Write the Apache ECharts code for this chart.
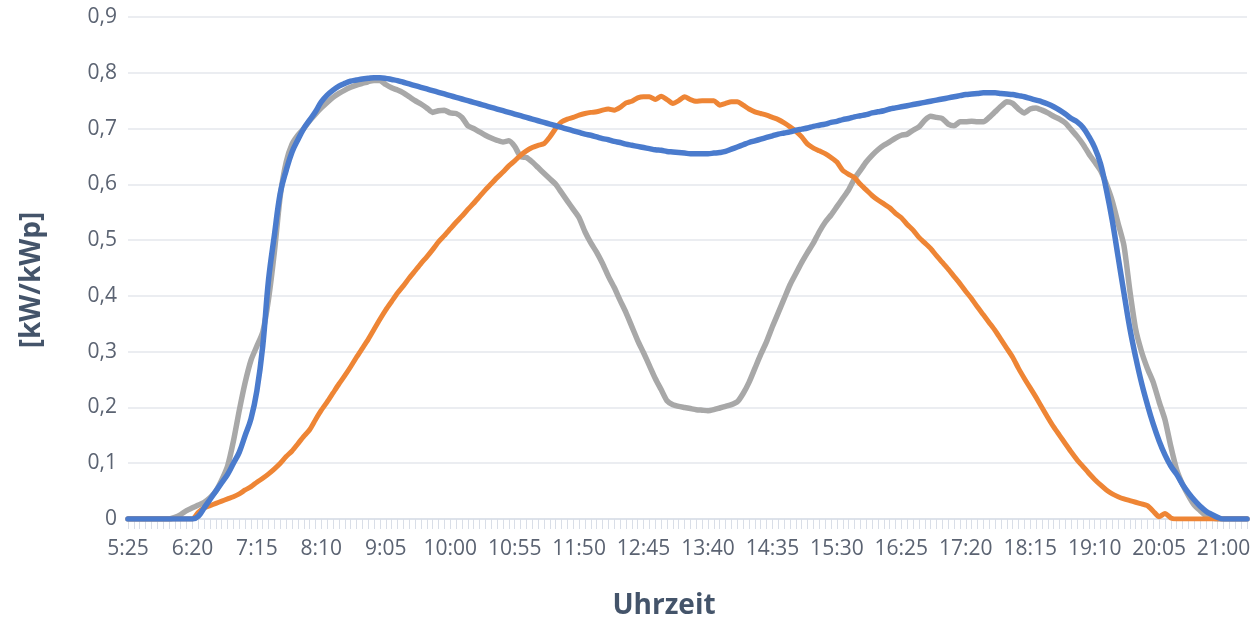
<!DOCTYPE html>
<html><head><meta charset="utf-8">
<script src="https://cdn.jsdelivr.net/npm/echarts@6/dist/echarts.min.js"></script>
<style>html,body{margin:0;padding:0;background:#fff}#c{width:1256px;height:619px}</style>
</head><body><div id="c"></div>
<script>
const times = ["5:25","5:30","5:35","5:40","5:45","5:50","5:55",
"6:00","6:05","6:10","6:15","6:20","6:25","6:30","6:35","6:40","6:45","6:50","6:55",
"7:00","7:05","7:10","7:15","7:20","7:25","7:30","7:35","7:40","7:45","7:50","7:55",
"8:00","8:05","8:10","8:15","8:20","8:25","8:30","8:35","8:40","8:45","8:50","8:55",
"9:00","9:05","9:10","9:15","9:20","9:25","9:30","9:35","9:40","9:45","9:50","9:55",
"10:00","10:05","10:10","10:15","10:20","10:25","10:30","10:35","10:40","10:45","10:50","10:55",
"11:00","11:05","11:10","11:15","11:20","11:25","11:30","11:35","11:40","11:45","11:50","11:55",
"12:00","12:05","12:10","12:15","12:20","12:25","12:30","12:35","12:40","12:45","12:50","12:55",
"13:00","13:05","13:10","13:15","13:20","13:25","13:30","13:35","13:40","13:45","13:50","13:55",
"14:00","14:05","14:10","14:15","14:20","14:25","14:30","14:35","14:40","14:45","14:50","14:55",
"15:00","15:05","15:10","15:15","15:20","15:25","15:30","15:35","15:40","15:45","15:50","15:55",
"16:00","16:05","16:10","16:15","16:20","16:25","16:30","16:35","16:40","16:45","16:50","16:55",
"17:00","17:05","17:10","17:15","17:20","17:25","17:30","17:35","17:40","17:45","17:50","17:55",
"18:00","18:05","18:10","18:15","18:20","18:25","18:30","18:35","18:40","18:45","18:50","18:55",
"19:00","19:05","19:10","19:15","19:20","19:25","19:30","19:35","19:40","19:45","19:50","19:55",
"20:00","20:05","20:10","20:15","20:20","20:25","20:30","20:35","20:40","20:45","20:50","20:55",
"21:00","21:05","21:10","21:15","21:20"];

const blueSeries = [0,0,0,0,0,0,0,0,0,0,0,0,
0.005,0.02,0.035,0.05,0.065,0.08,0.1,0.12,0.15,0.18,0.23,0.31,
0.43,0.51,0.585,0.625,0.658,0.68,0.7,0.715,0.73,0.748,0.76,0.769,
0.776,0.781,0.785,0.787,0.789,0.79,0.791,0.791,
0.79,0.788,0.786,0.783,0.78,0.777,0.774,0.771,0.768,0.765,0.762,0.759,
0.756,0.753,0.75,0.747,0.744,0.741,0.738,0.735,0.732,0.729,0.726,0.723,
0.72,0.717,0.714,0.711,0.708,0.705,0.702,0.699,0.696,0.693,0.69,0.688,
0.685,0.682,0.68,0.677,0.675,0.672,0.67,0.668,0.666,0.664,0.662,0.661,
0.659,0.658,0.657,0.656,0.655,0.655,0.655,0.655,0.656,0.657,0.659,0.663,
0.667,0.671,0.675,0.678,0.681,0.684,0.687,0.69,0.692,0.694,0.697,0.699,
0.701,0.704,0.706,0.708,0.711,0.713,0.716,0.718,0.721,0.723,0.725,0.728,
0.73,0.732,0.735,0.737,0.739,0.741,0.743,0.745,0.747,0.749,0.751,0.753,
0.755,0.757,0.759,0.761,0.762,0.763,0.764,0.764,0.764,0.763,0.762,0.761,
0.759,0.757,0.754,0.751,0.748,0.744,0.739,0.733,0.726,0.718,0.712,0.702,
0.686,0.666,0.637,0.59,0.535,0.47,0.405,0.342,0.29,0.244,0.205,0.17,
0.14,0.115,0.095,0.08,0.062,0.047,0.034,0.023,0.014,0.008,0.003,0,
0,0,0,0];

const greySeries = [0,0,0,0,0,0,0,0,0.003,0.008,0.015,0.02,
0.025,0.03,0.038,0.05,0.07,0.095,0.14,0.195,0.245,0.285,0.31,0.335,
0.395,0.48,0.58,0.64,0.672,0.688,0.7,0.714,0.726,0.737,0.747,0.756,
0.763,0.769,0.774,0.778,0.781,0.784,0.786,0.786,
0.779,0.773,0.769,0.764,0.757,0.75,0.744,0.737,0.729,0.732,0.733,0.728,
0.727,0.72,0.705,0.7,0.694,0.688,0.683,0.679,0.676,0.678,0.668,0.65,
0.648,0.64,0.63,0.62,0.61,0.6,0.585,0.57,0.555,0.54,0.515,0.495,
0.478,0.458,0.435,0.415,0.392,0.37,0.345,0.32,0.298,0.275,0.252,0.232,
0.212,0.205,0.202,0.2,0.198,0.196,0.195,0.194,0.196,0.199,0.202,0.205,
0.21,0.225,0.245,0.27,0.295,0.318,0.345,0.37,0.395,0.42,0.44,0.46,
0.478,0.495,0.515,0.532,0.545,0.56,0.575,0.59,0.61,0.625,0.64,0.652,
0.662,0.67,0.676,0.683,0.688,0.69,0.697,0.703,0.715,0.722,0.72,0.718,
0.708,0.705,0.712,0.712,0.713,0.712,0.712,0.72,0.73,0.74,0.748,0.745,
0.735,0.728,0.735,0.737,0.733,0.728,0.722,0.717,0.71,0.698,0.686,0.672,
0.655,0.64,0.625,0.6,0.57,0.53,0.49,0.41,0.34,0.3,0.27,0.245,
0.21,0.178,0.13,0.088,0.062,0.042,0.025,0.015,0.006,0.002,0,0,
0,0,0,0];

const orangeSeries = [0,0,0,0,0,0,0,0,0,0,0,0,
0.012,0.02,0.024,0.028,0.032,0.036,0.04,0.045,0.052,0.058,0.066,0.073,
0.081,0.09,0.1,0.112,0.122,0.135,0.148,0.16,0.178,0.195,0.21,0.226,
0.242,0.257,0.273,0.29,0.306,0.322,0.34,0.358,0.375,0.39,0.405,0.418,
0.432,0.445,0.458,0.47,0.483,0.497,0.508,0.52,0.532,0.543,0.555,0.566,
0.578,0.59,0.601,0.612,0.622,0.633,0.642,0.652,0.66,0.666,0.67,0.673,
0.685,0.7,0.712,0.717,0.72,0.724,0.727,0.729,0.73,0.733,0.735,0.733,
0.738,0.746,0.749,0.755,0.757,0.757,0.752,0.758,0.752,0.745,0.75,0.757,
0.752,0.749,0.75,0.75,0.75,0.742,0.745,0.748,0.748,0.742,0.735,0.73,
0.727,0.724,0.72,0.716,0.71,0.703,0.695,0.685,0.672,0.665,0.66,0.655,
0.648,0.64,0.625,0.618,0.612,0.6,0.59,0.58,0.572,0.565,0.558,0.548,
0.54,0.528,0.518,0.505,0.495,0.485,0.472,0.46,0.448,0.435,0.422,0.408,
0.395,0.38,0.366,0.352,0.338,0.322,0.306,0.29,0.27,0.252,0.235,0.218,
0.2,0.182,0.165,0.15,0.135,0.12,0.106,0.094,0.082,0.071,0.061,0.052,
0.045,0.04,0.036,0.033,0.03,0.027,0.024,0.014,0.004,0.01,0.002,0,
0,0,0,0,0,0,0,0,0,0,0,0];

const yTicks = ["0","0,1","0,2","0,3","0,4","0,5","0,6","0,7","0,8","0,9"];

const chart = echarts.init(document.getElementById('c'));
const labelColor = '#5b6372';
chart.setOption({
  animation: false,
  grid: {left: 128, right: 9, top: 17, bottom: 100, outerBoundsMode: 'none', containLabel: false},
  xAxis: {
    type: 'category', data: times, boundaryGap: false,
    name: 'Uhrzeit', nameLocation: 'middle', nameGap: 73,
    nameTextStyle: {fontFamily: 'Open Sans', fontWeight: 'bold', fontSize: 28, color: '#44546a', padding: [0, 47, 0, 0]},
    axisLine: {lineStyle: {color: '#d9dee7', width: 1.5}},
    axisTick: {show: true, interval: 0, length: 10, lineStyle: {color: '#d9dee7', width: 1}},
    axisLabel: {interval: 10, margin: 20, fontFamily: 'Open Sans', fontSize: 21, color: labelColor},
    splitLine: {show: false}
  },
  yAxis: {
    type: 'value', min: 0, max: 0.9, interval: 0.1,
    name: '[kW/kWp]', nameLocation: 'middle', nameGap: 82, nameRotate: 90,
    nameTextStyle: {fontFamily: 'Open Sans', fontWeight: 'bold', fontSize: 28, color: '#44546a', padding: [0, 24, 0, 0]},
    axisLine: {show: false}, axisTick: {show: false},
    axisLabel: {margin: 11, fontFamily: 'Open Sans', fontSize: 21, color: labelColor,
      formatter: (v) => yTicks[Math.round(v * 10)]},
    splitLine: {lineStyle: {color: '#e4e7ed', width: 1.5}}
  },
  series: [
    {type: 'line', data: greySeries, showSymbol: false, smooth: 0.2, lineStyle: {color: '#a8a8a8', width: 5.5, cap: 'round', join: 'round'}},
    {type: 'line', data: orangeSeries, showSymbol: false, smooth: 0.2, lineStyle: {color: '#ee8535', width: 5, cap: 'round', join: 'round'}},
    {type: 'line', data: blueSeries, showSymbol: false, smooth: 0.4, lineStyle: {color: '#4a7bcd', width: 5.5, cap: 'round', join: 'round'}}
  ]
});
</script></body></html>
